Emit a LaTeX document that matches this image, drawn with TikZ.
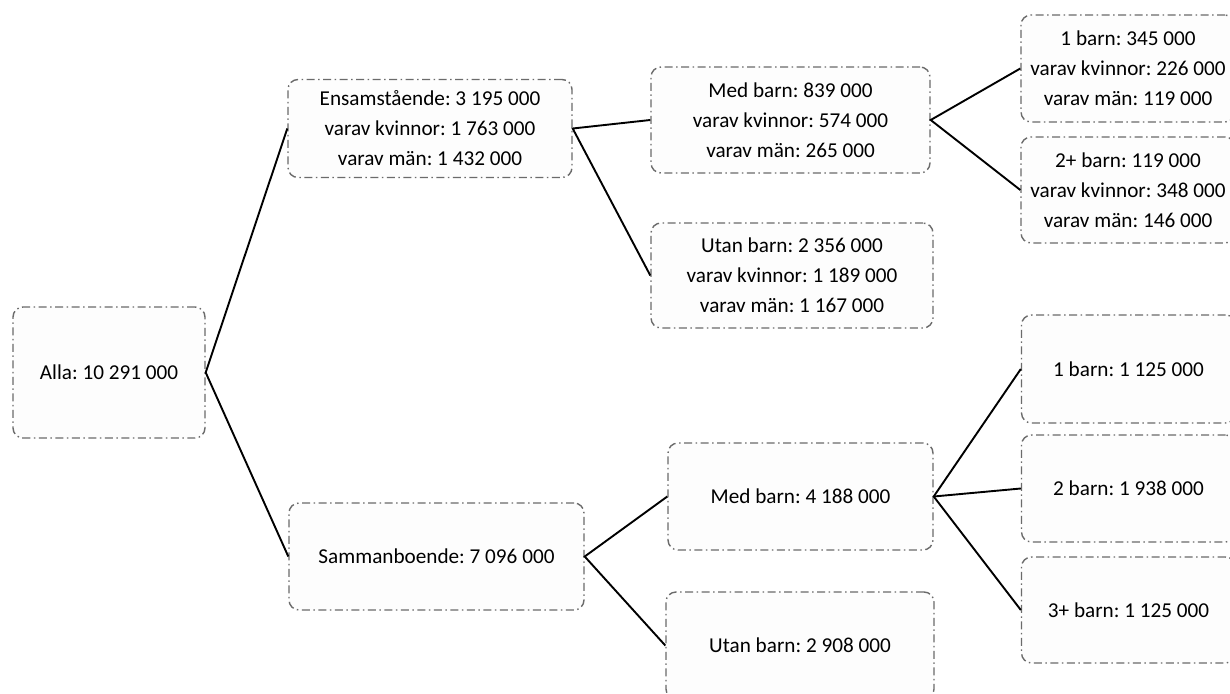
\documentclass[tikz,border=0pt]{standalone}
\usepackage{fontspec}
\setmainfont{Carlito}
\frenchspacing
\begin{document}
\begin{tikzpicture}[x=1pt,y=-1pt,
  box/.style={draw=black!58, line width=1.4pt, fill=black!0.8,
    rounded corners=10pt, dash pattern=on 8pt off 3.5pt on 1.5pt off 3.5pt,
    inner sep=0pt, align=center,
    font=\fontsize{21.2}{30}\selectfont},
  conn/.style={draw=black, line width=1.9pt}]
\useasboundingbox (0,0) rectangle (1230,693);
\clip (0,0) rectangle (1230,693);
\fill[white] (0,0) rectangle (1230,693);

\node[box, minimum width=192pt, minimum height=131pt] (alla) at (109,372.5) {Alla: 10 291 000};
\node[box, minimum width=284pt, minimum height=98pt] (ens) at (430,128.5) {Ensamstående: 3 195 000\\varav kvinnor: 1 763 000\\varav män: 1 432 000};
\node[box, minimum width=295pt, minimum height=107pt] (samm) at (436.5,556.5) {Sammanboende: 7 096 000};
\node[box, minimum width=279pt, minimum height=106pt] (med1) at (790.5,120) {Med barn: 839 000\\varav kvinnor: 574 000\\varav män: 265 000};
\node[box, minimum width=282pt, minimum height=105pt] (utan1) at (792,275.5) {Utan barn: 2 356 000\\varav kvinnor: 1 189 000\\varav män: 1 167 000};
\node[box, minimum width=265pt, minimum height=107pt] (med2) at (800.5,496.5) {Med barn: 4 188 000};
\node[box, minimum width=268pt, minimum height=107pt] (utan2) at (800,645.5) {Utan barn: 2 908 000};
\node[box, minimum width=214pt, minimum height=107pt] (r1) at (1128,68.5) {1 barn: 345 000\\varav kvinnor: 226 000\\varav män: 119 000};
\node[box, minimum width=214pt, minimum height=106pt] (r2) at (1128,190) {2+ barn: 119 000\\varav kvinnor: 348 000\\varav män: 146 000};
\node[box, minimum width=214pt, minimum height=108pt] (r3) at (1128.5,369) {1 barn: 1 125 000};
\node[box, minimum width=214pt, minimum height=107pt] (r4) at (1128.5,488.5) {2 barn: 1 938 000};
\node[box, minimum width=214pt, minimum height=106pt] (r5) at (1128.5,610) {3+ barn: 1 125 000};

\draw[conn] (ens.west) -- (alla.east) -- (samm.west);
\draw[conn] (med1.west) -- (ens.east) -- (utan1.west);
\draw[conn] (r1.west) -- (med1.east) -- (r2.west);
\draw[conn] (med2.west) -- (samm.east) -- (utan2.west);
\draw[conn] (r3.west) -- (med2.east) -- (r5.west);
\draw[conn] (med2.east) -- (r4.west);
\end{tikzpicture}
\end{document}
